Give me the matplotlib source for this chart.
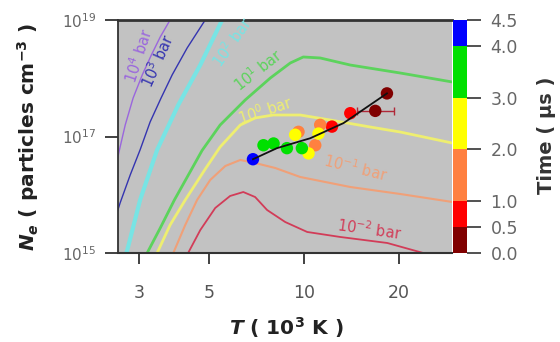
import matplotlib
matplotlib.use("Agg")
import matplotlib.pyplot as plt
import numpy as np
from matplotlib.colors import ListedColormap, BoundaryNorm
import matplotlib.colorbar as mcolorbar

plt.rcParams['font.family'] = ['DejaVu Sans']
plt.rcParams['mathtext.fontset'] = 'custom'
plt.rcParams['mathtext.rm'] = 'DejaVu Sans'
plt.rcParams['mathtext.it'] = 'DejaVu Sans:bold:italic'
plt.rcParams['mathtext.bf'] = 'DejaVu Sans:bold'

# ---- equilibrium curves (T in 10^3 K, log10 Ne) ----
p4_T = [2.48, 2.61, 2.71, 2.87, 3.07, 3.28, 3.50, 3.76]
p4_logN = [16.29, 16.82, 17.20, 17.66, 18.06, 18.40, 18.71, 19.0]
p3_T = [2.48, 2.61, 2.81, 3.02, 3.25, 3.52, 3.82, 4.26, 4.86]
p3_logN = [15.48, 15.86, 16.34, 16.77, 17.25, 17.66, 18.06, 18.52, 19.0]
p2_T = [2.65, 2.75, 3.02, 3.42, 3.99, 4.69, 5.50, 5.83]
p2_logN = [14.79, 15.05, 15.91, 16.77, 17.54, 18.23, 19.0, 19.26]
p1_T = [3.10, 3.18, 3.50, 3.88, 4.36, 4.75, 5.42, 6.51, 7.82, 9.05, 9.95,
        11.26, 14.03, 20.21, 29.56, 31.0]
p1_logN = [14.85, 15.0, 15.43, 15.91, 16.40, 16.76, 17.197, 17.627, 18.004, 18.262,
           18.365, 18.348, 18.227, 18.09, 17.936, 17.91]
p0_T = [3.35, 3.42, 3.76, 4.20, 4.86, 5.42, 6.28, 7.00, 7.99, 9.73, 12.12, 16.23,
        20.21, 29.56, 31.0]
p0_logN = [14.88, 15.0, 15.48, 15.91, 16.44, 16.82, 17.197, 17.318, 17.369, 17.369,
           17.283, 17.163, 17.077, 16.888, 16.86]
pm1_T = [3.78, 3.85, 4.20, 4.58, 5.04, 5.63, 6.28, 7.00, 8.11, 9.73, 14.03, 20.21,
         29.56, 31.0]
pm1_logN = [14.88, 15.0, 15.48, 15.91, 16.253, 16.494, 16.597, 16.545, 16.459, 16.305,
            16.133, 16.013, 15.876, 15.86]
pm2_T = [4.2, 4.29, 4.69, 5.23, 5.83, 6.42, 7.00, 7.64, 8.72, 10.24, 13.04, 18.38,
         23.91, 26.0]
pm2_logN = [14.86, 15.0, 15.395, 15.773, 15.979, 16.047, 15.961, 15.738, 15.532,
            15.361, 15.275, 15.172, 15.0, 14.94]

curve_T = [p4_T, p3_T, p2_T, p1_T, p0_T, pm1_T, pm2_T]
curve_logN = [p4_logN, p3_logN, p2_logN, p1_logN, p0_logN, pm1_logN, pm2_logN]
curve_colors = ['#9a66dd', '#3434b0', '#78e4e4', '#5cd35c', '#eeee70', '#f0a078', '#d23c58']
curve_lw = [1.0, 1.0, 3.0, 2.0, 2.0, 1.5, 1.3]
curve_labels = [r'10$^{4}$ bar', r'10$^{3}$ bar', r'10$^{2}$ bar', r'10$^{1}$ bar',
                r'10$^{0}$ bar', r'10$^{-1}$ bar', r'10$^{-2}$ bar']
label_T = [3.0, 3.45, 5.92, 7.16, 7.54, 14.55, 16.2]
label_logN = [18.40, 18.31, 18.62, 18.14, 17.45, 16.46, 15.40]
label_rot = [72, 66, 55, 38, 18, -14, -8]
label_colors = ['#9a66dd', '#3434b0', '#78e4e4', '#5cd35c', '#eeee70', '#f0a078', '#d23c58']

# ---- measured points ----
pt_T = [18.34, 16.84, 14.03, 12.27, 11.26, 10.86, 9.61, 11.12, 10.34, 9.38,
        9.85, 8.83, 8.01, 7.44, 6.89]
pt_logN = [17.74, 17.44, 17.40, 17.17, 17.20, 16.85, 17.08, 17.05, 16.71, 17.03,
           16.80, 16.80, 16.88, 16.85, 16.61]
pt_time = [0.2, 0.4, 0.7, 0.9, 1.5, 1.7, 1.9, 2.2, 2.5, 2.7, 3.1, 3.3, 3.5, 3.8, 4.2]
err_T = [16.84]
err_logN = [17.44]
err_lo = [2.1]
err_hi = [2.5]

fit_T = [6.89, 8.21, 10.47, 13.35, 18.34]
fit_logN = [16.61, 16.80, 16.97, 17.23, 17.74]

# ---- colorbar ----
cb_bounds = [0.0, 0.5, 1.0, 2.0, 3.0, 4.0, 4.5]
cb_colors = ['#800000', '#ff0000', '#ff8040', '#ffff00', '#00e000', '#0000ff']
cb_ticks = [0.0, 0.5, 1.0, 2.0, 3.0, 4.0, 4.5]
cb_ticklabels = ['0.0', '0.5', '1.0', '2.0', '3.0', '4.0', '4.5']

x_ticks = [3, 5, 10, 20]
x_ticklabels = ['3', '5', '10', '20']
y_ticks = [1e15, 1e17, 1e19]
y_ticklabels = [r'$\mathdefault{10^{15}}$', r'$\mathdefault{10^{17}}$', r'$\mathdefault{10^{19}}$']

fig = plt.figure(figsize=(5.6, 3.42), dpi=100)
ax = fig.add_axes([118/560, 1 - 253/342, 334/560, 233/342])
cax = fig.add_axes([453/560, 1 - 253/342, 14/560, 233/342])

ax.set_facecolor('#c2c2c2')
ax.set_xscale('log')
ax.set_yscale('log')

for T, lN, c, lw in zip(curve_T, curve_logN, curve_colors, curve_lw):
    ax.plot(T, 10 ** np.array(lN), color=c, lw=lw, zorder=2)

for T, lN, s, r, c in zip(label_T, label_logN, curve_labels, label_rot, label_colors):
    ax.text(T, 10 ** lN, s, rotation=r, color=c, fontsize=10.5, ha='center', va='center',
            rotation_mode='anchor', zorder=3)

cmap = ListedColormap(cb_colors)
norm = BoundaryNorm(cb_bounds, cmap.N)

ax.errorbar(err_T, 10 ** np.array(err_logN), xerr=[err_lo, err_hi], fmt='none',
            ecolor='#b02838', elinewidth=1.0, capsize=3, zorder=3)
ax.scatter(pt_T, 10 ** np.array(pt_logN), c=pt_time, cmap=cmap, norm=norm, s=80,
           edgecolors='none', zorder=4)
ax.plot(fit_T, 10 ** np.array(fit_logN), color='#111111', lw=1.3, zorder=5)

ax.set_xlim(2.57, 29.5)
ax.set_ylim(1e15, 1e19)
ax.minorticks_off()
ax.set_xticks(x_ticks)
ax.set_xticklabels(x_ticklabels)
ax.set_yticks(y_ticks)
ax.set_yticklabels(y_ticklabels)
ax.tick_params(axis='x', direction='out', length=8, width=1.3, pad=14, labelsize=12.5,
               labelcolor='#555555', color='#333333')
ax.tick_params(axis='y', direction='out', length=9.5, width=1.3, pad=6, labelsize=11,
               labelcolor='#666666', color='#333333')
for side in ['top', 'left', 'bottom']:
    ax.spines[side].set_color('#333333')
ax.spines['top'].set_linewidth(2.0)
ax.spines['left'].set_linewidth(1.3)
ax.spines['bottom'].set_linewidth(1.5)
ax.spines['right'].set_visible(False)

fig.text(286/560, 1 - 328/342, r'$T$ ( 10$^{\mathdefault{3}}$ K )', fontsize=14.5,
         fontweight='bold', color='#222222', ha='center', va='center')
fig.text(28/560, 1 - 137/342, r'$N_e$ ( particles cm$^{\mathdefault{-3}}$ )', fontsize=14.5,
         fontweight='bold', color='#222222', ha='center', va='center', rotation=90)

cb = mcolorbar.ColorbarBase(cax, cmap=cmap, norm=norm, boundaries=cb_bounds,
                            spacing='proportional', ticks=cb_ticks)
cb.set_ticklabels(cb_ticklabels)
cb.outline.set_visible(False)
cax.tick_params(direction='out', length=10, width=1.2, labelsize=12.5,
                labelcolor='#666666', color='#333333', pad=7)
fig.text(547/560, 1 - 135/342, 'Time ( μs )', fontsize=14, fontweight='bold',
         color='#333333', ha='center', va='center', rotation=90)

fig.savefig('out.png', dpi=100)
